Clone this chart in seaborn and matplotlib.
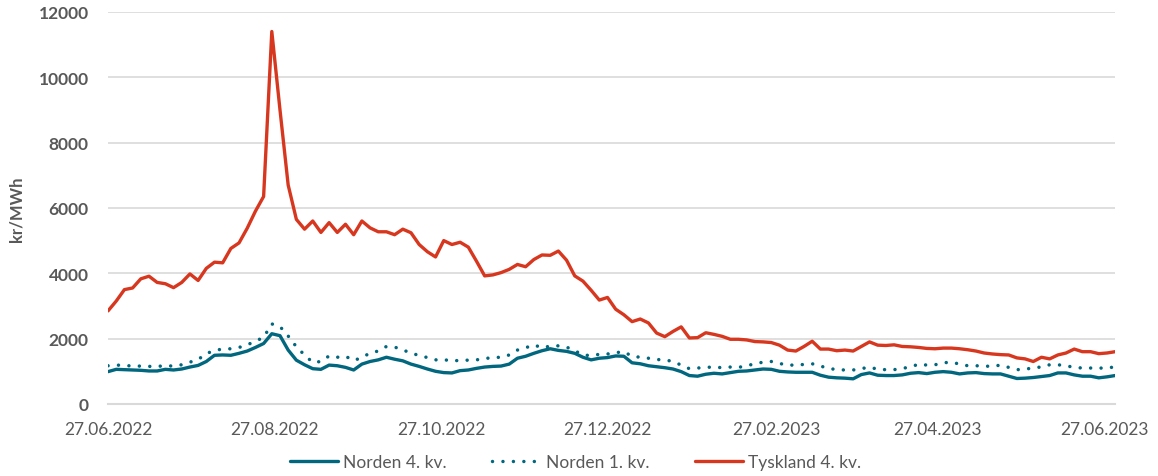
import matplotlib
matplotlib.use("Agg")
import matplotlib.pyplot as plt
import matplotlib.dates as mdates
import pandas as pd
import seaborn as sns

# values every 3rd day from 27.06.2022 (kr/MWh)
dates = pd.date_range("2022-06-27", periods=124, freq="3D")

tyskland_q4 = [
    2850, 3150, 3500, 3550, 3830, 3910, 3720, 3680, 3560, 3720,
    3980, 3780, 4150, 4340, 4320, 4760, 4930, 5380, 5900, 6350,
    11400, 9000, 6700, 5650, 5350, 5600, 5250, 5550, 5250, 5500,
    5180, 5600, 5390, 5270, 5270, 5180, 5350, 5240, 4880, 4660,
    4500, 5000, 4880, 4950, 4800, 4370, 3920, 3950, 4020, 4120,
    4270, 4200, 4420, 4560, 4550, 4680, 4400, 3920, 3760, 3480,
    3180, 3260, 2900, 2730, 2520, 2600, 2480, 2170, 2060, 2220,
    2360, 2020, 2030, 2180, 2130, 2070, 1980, 1980, 1960, 1910,
    1900, 1880, 1800, 1650, 1620, 1760, 1920, 1680, 1680, 1630,
    1650, 1620, 1760, 1900, 1800, 1790, 1810, 1760, 1750, 1730,
    1700, 1690, 1710, 1710, 1690, 1660, 1620, 1560, 1530, 1510,
    1500, 1410, 1380, 1300, 1430, 1380, 1500, 1560, 1680, 1600,
    1600, 1540, 1560, 1600,
]

norden_q4 = [
    990, 1060, 1050, 1040, 1030, 1010, 1010, 1060, 1040, 1070,
    1130, 1180, 1300, 1490, 1500, 1490, 1550, 1620, 1730, 1850,
    2150, 2090, 1650, 1340, 1200, 1080, 1060, 1190, 1170, 1120,
    1040, 1220, 1300, 1350, 1430, 1370, 1320, 1220, 1150, 1070,
    1000, 960, 950, 1020, 1040, 1090, 1130, 1150, 1160, 1220,
    1400, 1460, 1550, 1630, 1690, 1640, 1610, 1550, 1430, 1350,
    1400, 1420, 1470, 1460, 1260, 1230, 1170, 1140, 1110, 1070,
    990, 870, 850, 910, 940, 920, 960, 1000, 1010, 1040,
    1070, 1060, 1000, 980, 970, 970, 970, 880, 820, 800,
    790, 770, 900, 950, 880, 870, 870, 890, 940, 960,
    930, 970, 990, 970, 920, 950, 960, 930, 920, 920,
    850, 780, 790, 810, 840, 870, 950, 950, 890, 850,
    850, 800, 830, 870,
]

norden_q1 = [
    1170, 1190, 1180, 1160, 1160, 1150, 1150, 1170, 1160, 1200,
    1280, 1360, 1540, 1640, 1680, 1690, 1730, 1810, 1920, 2040,
    2450, 2370, 2080, 1750, 1500, 1270, 1300, 1470, 1430, 1460,
    1330, 1420, 1560, 1620, 1760, 1740, 1660, 1550, 1490, 1420,
    1350, 1360, 1310, 1340, 1340, 1350, 1390, 1420, 1430, 1500,
    1650, 1720, 1810, 1720, 1770, 1780, 1740, 1630, 1500, 1480,
    1520, 1530, 1570, 1600, 1460, 1430, 1400, 1360, 1350, 1300,
    1190, 1080, 1100, 1120, 1130, 1110, 1130, 1120, 1170, 1230,
    1280, 1300, 1240, 1190, 1190, 1210, 1230, 1160, 1090, 1050,
    1040, 1040, 1080, 1130, 1060, 1050, 1050, 1090, 1130, 1220,
    1190, 1200, 1260, 1280, 1220, 1170, 1170, 1160, 1150, 1190,
    1120, 1050, 1060, 1110, 1130, 1200, 1200, 1170, 1120, 1100,
    1100, 1090, 1120, 1120,
]

tick_dates = pd.to_datetime(["2022-06-27", "2022-08-27", "2022-10-27", "2022-12-27",
                             "2023-02-27", "2023-04-27", "2023-06-27"])

teal = "#00677F"
red = "#D7371E"
grey = "#595959"
grid = "#D9D9D9"

sns.set_style("white")
plt.rcParams["font.family"] = ["Lato", "DejaVu Sans"]

df = pd.DataFrame({"Dato": dates, "Norden 4. kv.": norden_q4,
                   "Norden 1. kv.": norden_q1, "Tyskland 4. kv.": tyskland_q4})

fig = plt.figure(figsize=(11.58, 4.77), dpi=100)
ax = fig.add_axes([0.0933, 0.151, 0.8697, 0.822])

sns.lineplot(data=df, x="Dato", y="Norden 4. kv.", ax=ax, color=teal, lw=2.4,
             label="Norden 4. kv.")
sns.lineplot(data=df, x="Dato", y="Norden 1. kv.", ax=ax, color=teal, lw=2.5,
             label="Norden 1. kv.", dashes=False)
ax.lines[-1].set_dashes((0.01, 3.0))
ax.lines[-1].set_dash_capstyle("round")
sns.lineplot(data=df, x="Dato", y="Tyskland 4. kv.", ax=ax, color=red, lw=2.4,
             label="Tyskland 4. kv.")

ax.set_ylim(0, 12000)
ax.set_yticks(range(0, 12001, 2000))
ax.set_xlim(pd.Timestamp("2022-06-27"), pd.Timestamp("2023-07-01"))
ax.set_xticks(tick_dates)
ax.xaxis.set_major_formatter(mdates.DateFormatter("%d.%m.%Y"))

ax.grid(axis="y", color=grid, lw=1.2)
ax.set_axisbelow(True)
for s in ["top", "right", "left"]:
    ax.spines[s].set_visible(False)
ax.spines["bottom"].set_color(grid)
ax.spines["bottom"].set_linewidth(1.5)

ax.tick_params(axis="x", colors=grid, length=6, width=1.5, pad=6,
               labelcolor=grey, labelsize=12.5)
ax.tick_params(axis="y", length=0, pad=14, labelcolor=grey, labelsize=12.5)
for lab in ax.get_yticklabels():
    lab.set_fontweight("bold")

ax.set_xlabel("")
ax.set_ylabel("kr/MWh", color=grey, fontsize=12, fontweight="bold", labelpad=10)

handles, labels = ax.get_legend_handles_labels()
ax.legend_.remove()
leg = fig.legend(handles, labels, loc="center", bbox_to_anchor=(0.497, 0.03),
                 ncol=3, frameon=False, fontsize=12.5, handlelength=2.8,
                 handletextpad=0.3, columnspacing=2.6)
for t in leg.get_texts():
    t.set_color(grey)

fig.savefig("out.png", dpi=100)
